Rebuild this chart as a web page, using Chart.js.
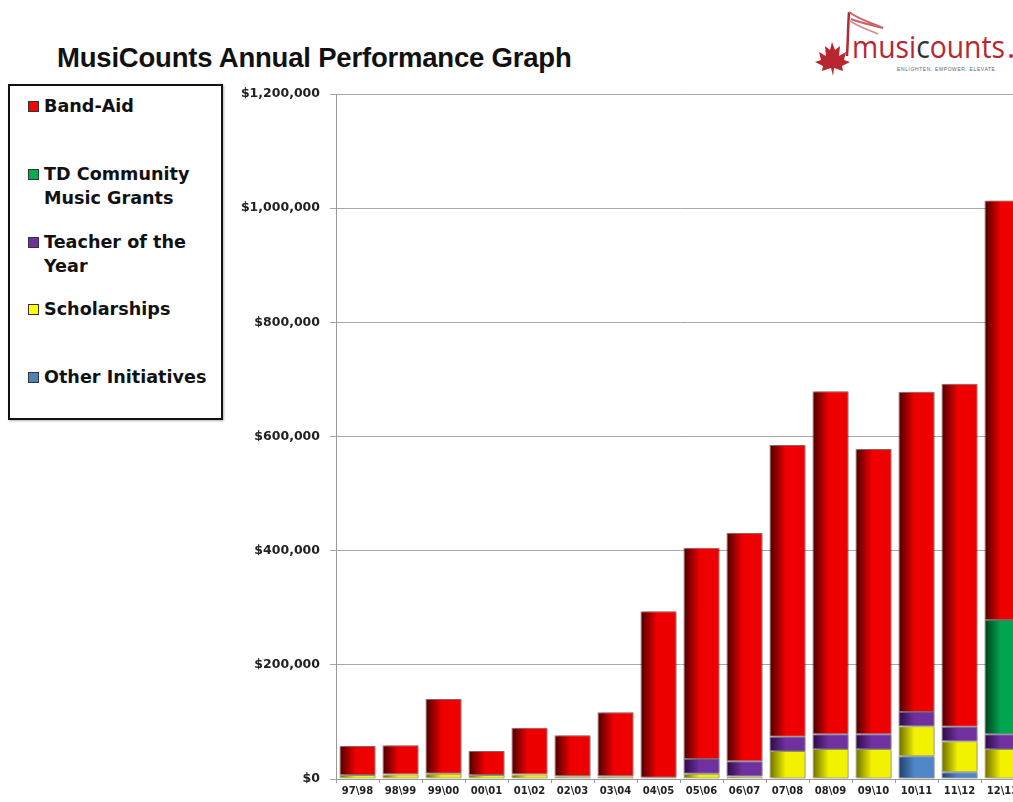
<!DOCTYPE html>
<html>
<head>
<meta charset="utf-8">
<script src="https://cdn.jsdelivr.net/npm/chart.js@4.4.1/dist/chart.umd.min.js"></script>
<style>
  html, body { margin:0; padding:0; background:#fff; width:1013px; height:802px; overflow:hidden; position:relative; }
  #title { position:absolute; left:57px; top:42px; font-family:"Liberation Sans", Arial, sans-serif; font-weight:bold; font-size:27.5px; color:#111; white-space:nowrap; letter-spacing:-0.2px; }
  #legend { position:absolute; left:8px; top:84px; width:211px; height:332px; border:2px solid #111; box-shadow:1px 1px 2px rgba(0,0,0,0.3); background:#fff; }
  .li { position:absolute; left:18px; font-family:"DejaVu Sans", sans-serif; font-weight:bold; font-size:17.6px; line-height:24px; color:#111; white-space:nowrap; }
  .sw { position:absolute; left:0; width:9px; height:9px; border:1px solid #333; }
  .tx { position:absolute; left:16px; top:0; }
  #wrap { position:absolute; left:230px; top:0; width:794px; height:802px; }
  #logo { position:absolute; left:810px; top:4px; }
</style>
</head>
<body>
<div id="title">MusiCounts Annual Performance Graph</div>
<div id="legend"></div>
<svg id="logo" width="210" height="76" viewBox="0 0 210 76">
  <path d="M39 8 C38 22 38 36 37 52" stroke="#b8262f" stroke-width="2.5" fill="none"/>
  <path d="M39 8 C50 16 60 18 73 24 C62 21 51 19 41 15" stroke="#c9646a" stroke-width="2" fill="none"/>
  <path d="M40 17 C51 24 59 26 68 30" stroke="#d98a8e" stroke-width="1.5" fill="none"/>
  <path d="M22 38 L25 46 L30 42 L29 52 L36 48 L34 56 L40 58 L32 62 L33 67 L24 64 L23 72 L21 64 L12 67 L13 62 L5 58 L11 56 L9 48 L16 52 L15 42 L20 46 Z" fill="#b8262f"/>
  <text x="42" y="54" font-family="'Open Sans','Liberation Sans',sans-serif" font-size="31" fill="#b8262f" textLength="153" lengthAdjust="spacingAndGlyphs">musi<tspan fill="#333">c</tspan>ounts</text>
  <text x="197" y="54" font-family="'Open Sans','Liberation Sans',sans-serif" font-size="31" fill="#b8262f">.</text>
  <text x="87" y="67" font-family="'Liberation Sans',sans-serif" font-size="5" fill="#666" letter-spacing="0.6">ENLIGHTEN. EMPOWER. ELEVATE.</text>
</svg>
<div id="wrap"><canvas id="c"></canvas></div>
<script>
const categories = ["97\\98","98\\99","99\\00","00\\01","01\\02","02\\03","03\\04","04\\05","05\\06","06\\07","07\\08","08\\09","09\\10","10\\11","11\\12","12\\13"];
const otherInitiatives = [0,0,0,0,0,0,0,0,0,0,0,0,0,40000,12000,0];
const scholarships     = [7000,8000,9000,7000,8000,5000,5000,2000,9000,5000,49000,52500,52500,52500,54000,52500];
const teacherOfYear    = [0,0,0,0,0,0,0,0,26000,26000,25000,25700,25700,25000,25600,26000];
const tdCommunity      = [0,0,0,0,0,0,0,0,0,0,0,0,0,0,0,200000];
const bandAid          = [51000,51000,131000,42000,82000,71500,112000,292000,370000,400000,511000,601000,500000,561000,601000,735000];
const yTicks = [0,200000,400000,600000,800000,1000000,1200000];

const seriesNames = ["Band-Aid","TD Community\nMusic Grants","Teacher of the\nYear","Scholarships","Other Initiatives"];
const legendColors = ["#ff0000","#00b050","#7030a0","#ffff00","#4f81bd"];
const legendTops = [8, 76, 144, 211, 279];

const lg = document.getElementById('legend');
seriesNames.forEach((n,i)=>{
  const d = document.createElement('div');
  d.className='li'; d.style.top = legendTops[i]+'px';
  const s = document.createElement('div'); s.className='sw'; s.style.background=legendColors[i]; s.style.top='7px';
  const t = document.createElement('div'); t.className='tx'; t.innerHTML = n.replace('\n','<br>');
  d.appendChild(s); d.appendChild(t); lg.appendChild(d);
});

function cyl(dark, bright){
  return (ctx)=>{
    const chart = ctx.chart;
    if (!chart.chartArea || ctx.dataIndex === undefined) return bright;
    const xs = chart.scales.x;
    const cx = xs.getPixelForValue(ctx.dataIndex);
    const step = xs.getPixelForValue(1) - xs.getPixelForValue(0);
    const w = step*0.84;
    const g = chart.ctx.createLinearGradient(cx-w/2,0,cx+w/2,0);
    g.addColorStop(0, dark);
    g.addColorStop(0.45, bright);
    g.addColorStop(1, bright);
    return g;
  };
}

const shadowPlugin = {
  id:'shadow',
  beforeDatasetDraw(chart){ const c=chart.ctx; c.save(); c.shadowColor='rgba(0,0,0,0.28)'; c.shadowOffsetX=3; c.shadowOffsetY=0; c.shadowBlur=2; },
  afterDatasetDraw(chart){ chart.ctx.restore(); }
};

const mk = (label, data, dark, bright, border) => ({
  label, data, backgroundColor: cyl(dark,bright), borderColor: border, borderWidth: 1, borderSkipped:false,
  categoryPercentage: 1.0, barPercentage: 0.84
});

new Chart(document.getElementById('c'), {
  type:'bar',
  data:{
    labels: categories,
    datasets:[
      mk("Other Initiatives", otherInitiatives, "#1f3f6a", "#4f86c8", "rgba(20,40,80,0.6)"),
      mk("Scholarships", scholarships, "#6a6a00", "#f2f200", "rgba(80,80,0,0.5)"),
      mk("Teacher of the Year", teacherOfYear, "#2a0a45", "#7030a0", "rgba(40,10,60,0.6)"),
      mk("TD Community Music Grants", tdCommunity, "#003d1c", "#00a550", "rgba(0,50,20,0.6)"),
      mk("Band-Aid", bandAid, "#4a0000", "#ee0000", "rgba(80,0,0,0.55)")
    ]
  },
  options:{
    responsive:true, maintainAspectRatio:false, animation:false,
    layout:{ padding:{ top:94, right:0, bottom:0, left:0 } },
    plugins:{ legend:{display:false}, tooltip:{enabled:false}, title:{display:false} },
    scales:{
      x:{
        stacked:true,
        grid:{ display:true, drawOnChartArea:false, offset:true, tickLength:4, color:'#999' },
        border:{ color:'#999', width:1 },
        ticks:{ color:'#222', font:{ family:"'DejaVu Sans', sans-serif", weight:'bold', size:10 }, padding:2, maxRotation:0, autoSkip:false },
        afterFit(s){ s.height = 23; }
      },
      y:{
        stacked:true, min:0, max:1200000,
        afterBuildTicks(s){ s.ticks = yTicks.map(v=>({value:v})); },
        grid:{ color:'#a8a8a8', lineWidth:1, tickLength:6, drawTicks:true },
        border:{ color:'#999', width:1 },
        ticks:{ color:'#222', padding:10, font:{ family:"'DejaVu Sans', sans-serif", weight:'bold', size:12.5 },
          callback:(v)=>'$'+Number(v).toLocaleString('en-US') },
        afterFit(s){ s.width = 106; }
      }
    }
  },
  plugins:[shadowPlugin]
});
</script>
</body>
</html>
